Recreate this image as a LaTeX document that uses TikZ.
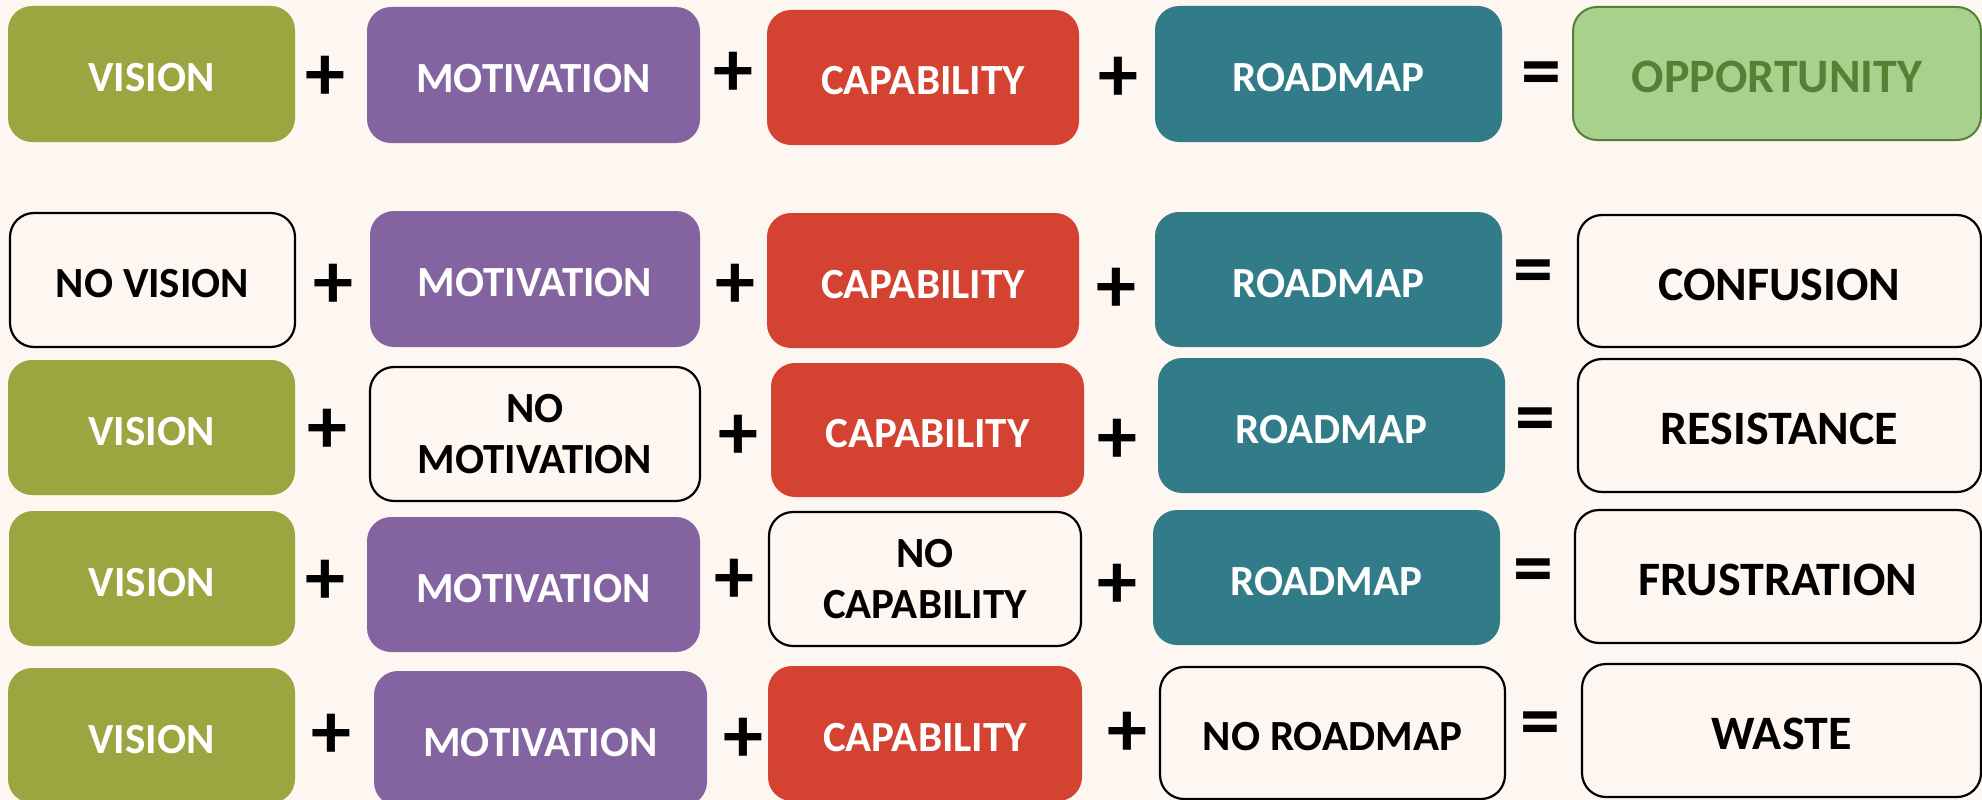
\documentclass[tikz,border=0pt]{standalone}
\usepackage{fontspec}
\setmainfont{Carlito}
\definecolor{bgc}{HTML}{FEF6F0}
\definecolor{cgreen}{HTML}{9BA640}
\definecolor{cpurple}{HTML}{8464A0}
\definecolor{cred}{HTML}{D44232}
\definecolor{cteal}{HTML}{317C88}
\definecolor{clight}{HTML}{A9D18E}
\definecolor{cdark}{HTML}{548235}
\tikzset{
  box/.style={rounded corners=24pt, inner sep=0pt, align=center,
    font=\fontsize{43}{51}\selectfont\bfseries},
  one/.style={text height=35pt, text depth=0pt},
  onebig/.style={text height=38pt, text depth=0pt},
  visbox/.style={box, one, fill=cgreen, text=white},
  motbox/.style={box, one, fill=cpurple, text=white},
  capbox/.style={box, one, fill=cred, text=white},
  roadbox/.style={box, one, fill=cteal, text=white},
  nobox/.style={box, fill=bgc, draw=black, line width=2.2pt, text=black},
  resbox/.style={nobox, onebig, font=\fontsize{48}{55}\selectfont\bfseries},
  oppbox/.style={box, onebig, fill=clight, draw=cdark, line width=2pt, text=cdark,
    font=\fontsize{48}{55}\selectfont\bfseries},
  opsign/.style={inner sep=0pt, font=\fontsize{80}{80}\selectfont\bfseries, text=black}
}
\newcommand\bx[7]{\node[#1, minimum width={(#5-#3)*1pt}, minimum height={(#6-#4)*1pt}] (#2) at ({(#3+#5)/2},{(#4+#6)/2}) {#7};}
\begin{document}
\begin{tikzpicture}[x=1pt,y=-1pt]
\fill[bgc] (0,0) rectangle (1982,800);
\useasboundingbox (0,0) rectangle (1982,800);
% Row 1
\bx{visbox}{v1}{8}{6}{295}{142}{VISION}
\bx{motbox}{m1}{367}{7}{700}{143}{MOTIVATION}
\bx{capbox}{c1}{767}{10}{1079}{145}{CAPABILITY}
\bx{roadbox}{r1}{1155}{6}{1502}{142}{ROADMAP}
\bx{oppbox}{o1}{1573}{7}{1981}{140}{OPPORTUNITY}
\node[opsign] (p11) at (325,78) {+};
\node[opsign] (p12) at (733,74) {+};
\node[opsign] (p13) at (1118,79) {+};
\node[opsign] (e1) at (1541,80) {=};
% Row 2
\bx{nobox,one}{v2}{10}{213}{295}{347}{NO VISION}
\bx{motbox}{m2}{370}{211}{700}{347}{MOTIVATION}
\bx{capbox}{c2}{767}{213}{1079}{348}{CAPABILITY}
\bx{roadbox}{r2}{1155}{212}{1502}{347}{ROADMAP}
\bx{resbox}{o2}{1578}{215}{1981}{347}{CONFUSION}
\node[opsign] (p21) at (333,286) {+};
\node[opsign] (p22) at (735,286) {+};
\node[opsign] (p23) at (1116,290) {+};
\node[opsign] (e2) at (1533,278) {=};
% Row 3
\bx{visbox}{v3}{8}{360}{295}{495}{VISION}
\bx{nobox}{m3}{370}{367}{700}{501}{NO\\MOTIVATION}
\bx{capbox}{c3}{771}{363}{1084}{497}{CAPABILITY}
\bx{roadbox}{r3}{1158}{358}{1505}{493}{ROADMAP}
\bx{resbox}{o3}{1578}{359}{1981}{492}{RESISTANCE}
\node[opsign] (p31) at (327,431) {+};
\node[opsign] (p32) at (738,437) {+};
\node[opsign] (p33) at (1117,441) {+};
\node[opsign] (e3) at (1535,426) {=};
% Row 4
\bx{visbox}{v4}{9}{511}{295}{646}{VISION}
\bx{motbox}{m4}{367}{517}{700}{652}{MOTIVATION}
\bx{nobox}{c4}{769}{512}{1081}{646}{NO\\CAPABILITY}
\bx{roadbox}{r4}{1153}{510}{1500}{645}{ROADMAP}
\bx{resbox}{o4}{1575}{510}{1981}{643}{FRUSTRATION}
\node[opsign] (p41) at (325,582) {+};
\node[opsign] (p42) at (734,581) {+};
\node[opsign] (p43) at (1117,586) {+};
\node[opsign] (e4) at (1533,577) {=};
% Row 5
\bx{visbox}{v5}{8}{668}{295}{803}{VISION}
\bx{motbox}{m5}{374}{671}{707}{806}{MOTIVATION}
\bx{capbox}{c5}{768}{666}{1082}{801}{CAPABILITY}
\bx{nobox,one}{r5}{1160}{667}{1505}{799}{NO ROADMAP}
\bx{resbox}{o5}{1582}{664}{1981}{797}{WASTE}
\node[opsign] (p51) at (331,736) {+};
\node[opsign] (p52) at (743,740) {+};
\node[opsign] (p53) at (1127,734) {+};
\node[opsign] (e5) at (1540,730) {=};
\end{tikzpicture}
\end{document}
